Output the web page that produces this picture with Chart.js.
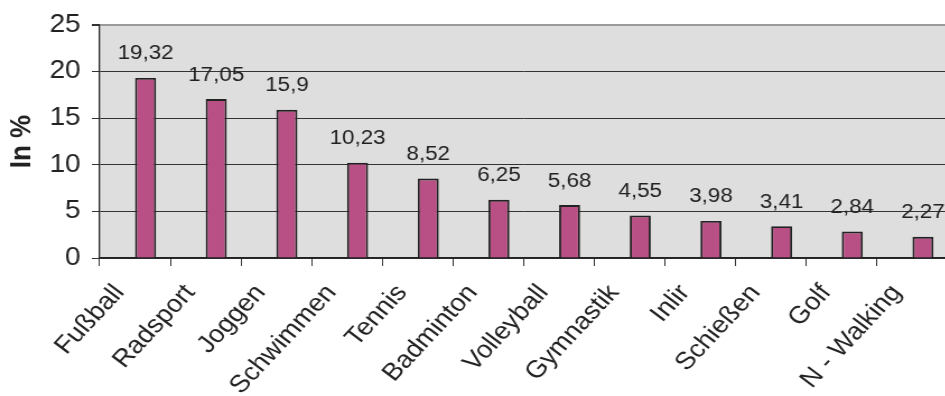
<!DOCTYPE html>
<html lang="de">
<head>
<meta charset="utf-8">
<title>Sportarten in %</title>
<script src="https://cdn.jsdelivr.net/npm/chart.js@4.4.1/dist/chart.umd.min.js"></script>
<style>
  html, body { margin: 0; padding: 0; background: #fff; overflow: hidden; }
  #chart { display: block; }
</style>
</head>
<body>
<!-- drawn on a slightly narrower canvas and widened by CSS, for the wide lettering -->
<canvas id="chart" width="848" height="396" style="width:950px;height:396px"></canvas>
<script>
// --- Data ---
var sports = [
  'Fußball', 'Radsport', 'Joggen', 'Schwimmen', 'Tennis', 'Badminton',
  'Volleyball', 'Gymnastik', 'Inlir', 'Schießen', 'Golf', 'N - Walking'
];
var shares = [19.32, 17.05, 15.9, 10.23, 8.52, 6.25, 5.68, 4.55, 3.98, 3.41, 2.84, 2.27];
// empty first series, keeps the bars right of the category centre
var spacer = sports.map(function () { return null; });
var yTicks = [0, 5, 10, 15, 20, 25];

var FONT = '"Liberation Sans", Arial, sans-serif';

// grey plot area behind the bars
var plotBackground = {
  id: 'plotBackground',
  beforeDraw: function (chart) {
    var a = chart.chartArea;
    var ctx = chart.ctx;
    ctx.save();
    ctx.fillStyle = '#dedede';
    ctx.fillRect(a.left, a.top, a.right - a.left, a.bottom - a.top);
    ctx.restore();
  }
};

// value above each bar, German decimal comma
var valueLabels = {
  id: 'valueLabels',
  afterDatasetsDraw: function (chart) {
    var meta = chart.getDatasetMeta(1);
    var ctx = chart.ctx;
    ctx.save();
    ctx.font = '20px ' + FONT;
    ctx.fillStyle = '#222';
    ctx.textAlign = 'center';
    ctx.textBaseline = 'middle';
    meta.data.forEach(function (bar, i) {
      ctx.fillText(String(shares[i]).replace('.', ','), bar.x, bar.y - 24);
    });
    ctx.restore();
  }
};

new Chart(document.getElementById('chart'), {
  type: 'bar',
  data: {
    labels: sports,
    datasets: [
      { data: spacer },
      {
        data: shares,
        backgroundColor: '#b85086',
        borderColor: '#222',
        borderWidth: 1.9
      }
    ]
  },
  options: {
    responsive: false,
    animation: false,
    categoryPercentage: 0.595,
    barPercentage: 1,
    layout: { padding: { top: 10, right: 2, left: 0, bottom: 0 } },
    plugins: {
      legend: { display: false },
      tooltip: { enabled: false }
    },
    scales: {
      x: {
        afterFit: function (scale) {
          scale.height = 138;
          // rotated labels hang to the left only, no side padding wanted
          scale.paddingLeft = 0;
          scale.paddingRight = 0;
        },
        border: { color: '#222', width: 1.5 },
        grid: {
          offset: true,
          drawOnChartArea: false,
          tickLength: 8,
          color: '#333'
        },
        ticks: {
          autoSkip: false,
          minRotation: 50,
          maxRotation: 50,
          padding: 13,
          labelOffset: -14,
          color: '#222',
          font: { family: FONT, size: 24.5 }
        }
      },
      y: {
        min: 0,
        max: 25,
        afterFit: function (scale) { scale.width = 89; },
        afterBuildTicks: function (scale) {
          scale.ticks = yTicks.map(function (v) { return { value: v }; });
        },
        border: { color: '#222', width: 1.3 },
        grid: {
          color: function (c) { return c.tick && c.tick.value === 25 ? '#999' : '#333'; },
          lineWidth: function (c) { return c.tick && c.tick.value === 25 ? 2 : 1; },
          tickColor: '#333',
          tickLength: 7
        },
        ticks: {
          padding: 10,
          color: '#222',
          font: { family: FONT, size: 25 }
        },
        title: {
          display: true,
          text: 'In %',
          color: '#222',
          font: { family: FONT, size: 26, weight: 'bold' },
          padding: { top: 4, bottom: 0 }
        }
      }
    }
  },
  plugins: [plotBackground, valueLabels]
});
</script>
</body>
</html>
